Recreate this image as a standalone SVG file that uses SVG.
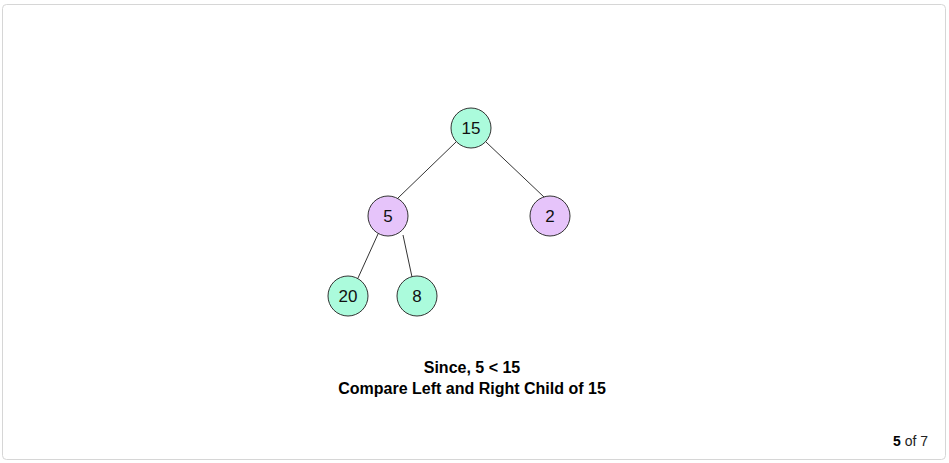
<svg xmlns="http://www.w3.org/2000/svg" width="949" height="463" viewBox="0 0 949 463">
<style>
.frame{fill:#fff;stroke:#d6d6d6;stroke-width:1}
.g{fill:#abfbdc;stroke:#333;stroke-width:1}
.p{fill:#e6c4fa;stroke:#333;stroke-width:1}
.lbl{font-family:"Liberation Sans",Arial,sans-serif;font-size:17px;fill:#111;text-anchor:middle;dominant-baseline:central}
.edge{stroke:#333;stroke-width:1}
.cap{font-family:"Liberation Sans",Arial,sans-serif;font-size:16px;font-weight:bold;fill:#000;text-anchor:middle}
.pg{font-family:"Liberation Sans",Arial,sans-serif;font-size:14px;fill:#222;text-anchor:end}
</style>
<rect class="frame" x="2.5" y="4.5" width="943" height="455" rx="4"/>
<g id="connectors">
<line class="edge" x1="456" y1="142" x2="398" y2="198"/>
<line class="edge" x1="486" y1="142" x2="544" y2="197"/>
<line class="edge" x1="378" y1="234" x2="358" y2="278"/>
<line class="edge" x1="403" y1="235" x2="412" y2="277"/>
</g>
<g id="n15"><circle class="g" cx="471" cy="128" r="20"/><text class="lbl" x="471" y="128">15</text></g>
<g id="n5"><circle class="p" cx="388" cy="216" r="20"/><text class="lbl" x="388" y="216">5</text></g>
<g id="n2"><circle class="p" cx="550" cy="216" r="20"/><text class="lbl" x="550" y="216">2</text></g>
<g id="n20"><circle class="g" cx="348" cy="296" r="20"/><text class="lbl" x="348" y="296">20</text></g>
<g id="n8"><circle class="g" cx="417" cy="296" r="20"/><text class="lbl" x="417" y="296">8</text></g>
<text class="cap" x="472" y="373">Since, 5 &lt; 15</text>
<text class="cap" x="472" y="394">Compare Left and Right Child of 15</text>
<text class="pg" x="928" y="446"><tspan font-weight="bold" fill="#000">5</tspan> of 7</text>
</svg>
